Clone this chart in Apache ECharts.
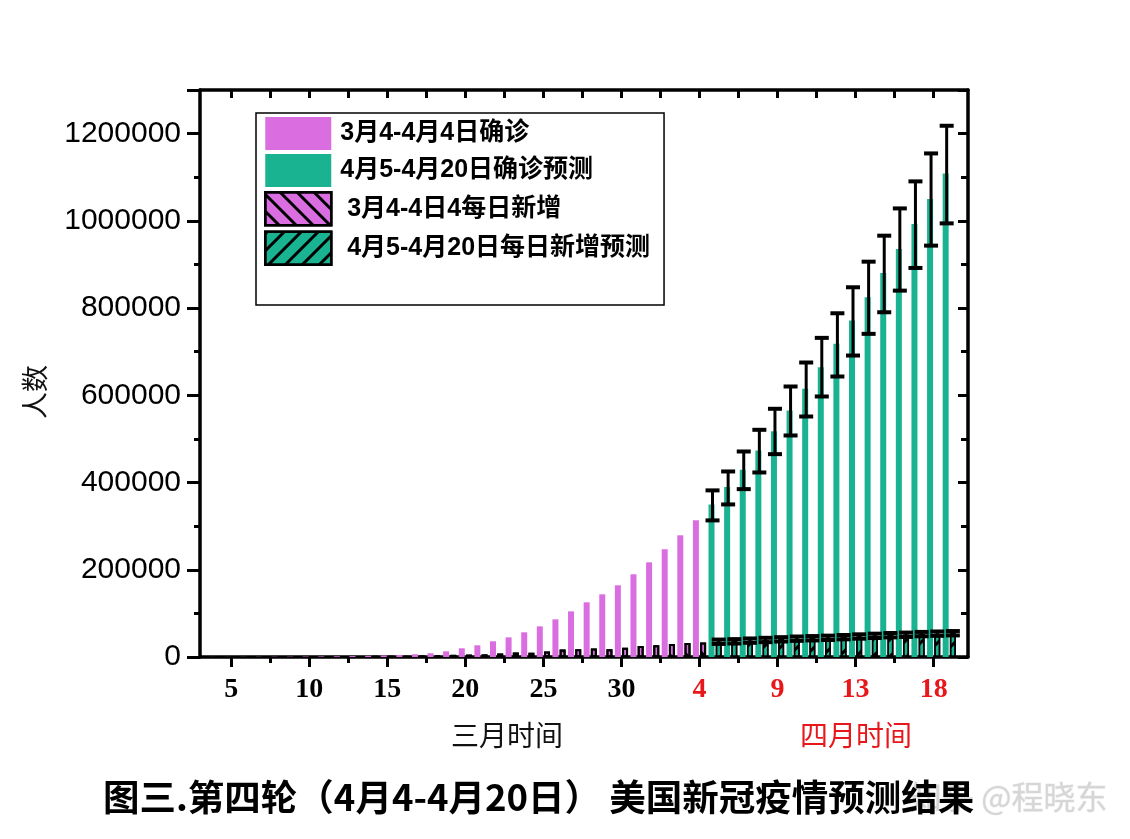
<!DOCTYPE html>
<html><head><meta charset="utf-8">
<script src="https://cdn.jsdelivr.net/npm/echarts@6/dist/echarts.min.js"></script>
<style>html,body{margin:0;padding:0;background:#fff}#c{width:1130px;height:839px}</style>
</head><body><div id="c"></div>
<script>
// x positions: day number counted from 1 March (March d -> d, April d -> 31 + d)
const actualDays = [4,5,6,7,8,9,10,11,12,13,14,15,16,17,18,19,20,21,22,23,24,25,26,27,28,29,30,31,32,33,34,35];
const predDays = [36,37,38,39,40,41,42,43,44,45,46,47,48,49,50,51];

const confirmedActual = [150,220,320,430,550,700,1000,1300,1700,2200,2800,3500,4600,6200,8600,13000,20000,26800,36000,45000,56600,70300,86400,104700,125400,143700,164400,189600,217000,247000,279000,313500];
const dailyActual = [30,70,100,110,120,150,300,300,450,500,600,800,1100,1800,3000,5000,5500,6000,8000,10500,10000,12500,17000,17500,19500,18000,21000,25000,27000,30000,32000,33500];

const confirmedPred = [349800,389500,429300,473500,517800,565200,614900,664400,718000,771400,824700,880500,935600,992800,1050000,1108800];
const confirmedLow  = [313200,349800,384900,423100,465100,507900,551400,597300,643100,691200,740900,790400,840000,892000,943200,994200];
const confirmedHigh = [382000,425400,471200,520900,569100,620200,675200,731700,788100,847700,906400,966000,1028500,1090500,1154600,1218000];

const dailyPred = [35000,36000,37500,39000,40500,42000,43000,44000,45500,47000,48500,50000,51000,52500,53500,54500];
const dailyLow  = [30000,31000,32500,34000,35500,37000,38000,39000,40500,42000,43500,45000,46000,47500,48500,49500];
const dailyHigh = [40000,41000,42500,44000,45500,47000,48000,49000,50500,52000,53500,55000,56000,57500,58500,59500];

const majorTicks = [5,10,15,20,25,30,35,40,45,50];
const tickLabels = ['5','10','15','20','25','30','4','9','13','18'];
const aprilTickLabels = ['4','9','13','18'];
const minorTicks = [7.5,12.5,17.5,22.5,27.5,32.5,37.5,42.5,47.5];
const topTicks = [5,7.5,10,12.5,15,17.5,20,22.5,25,27.5,30,32.5,35,37.5,40,42.5,45,47.5,50];

const seriesNames = ['3月4-4月4日确诊','4月5-4月20日确诊预测',' 3月4-4日4每日新增',' 4月5-4月20日每日新增预测'];
const titleText = '图三.第四轮（4月4-4月20日） 美国新冠疫情预测结果';
const marchAxisTitle = '三月时间';
const aprilAxisTitle = '四月时间';
const yAxisTitle = '人数';
const watermark = '知乎 @程晓东';

const PINK = '#DA6EE0', GREEN = '#19B392', RED = '#E8171B';
const BAR_W = 6, GAP_PX = 1.2;
const offC = -(BAR_W + GAP_PX) / 2, offD = (BAR_W + GAP_PX) / 2;

function zip(xs, ys) { return xs.map((x, i) => [x, ys[i]]); }
function zip3(xs, a, b) { return xs.map((x, i) => [x, a[i], b[i]]); }

function errRender(offset, capHalf, lw) {
  return function (params, api) {
    const x = api.value(0), lo = api.value(1), hi = api.value(2);
    const pLo = api.coord([x, lo]), pHi = api.coord([x, hi]);
    const cx = pLo[0] + offset;
    const st = { stroke: '#000', lineWidth: lw, fill: null };
    return { type: 'group', children: [
      { type: 'line', shape: { x1: cx, y1: pHi[1], x2: cx, y2: pLo[1] }, style: st },
      { type: 'line', shape: { x1: cx - capHalf, y1: pHi[1], x2: cx + capHalf, y2: pHi[1] }, style: { stroke: '#000', lineWidth: lw + 1 } },
      { type: 'line', shape: { x1: cx - capHalf, y1: pLo[1], x2: cx + capHalf, y2: pLo[1] }, style: { stroke: '#000', lineWidth: lw + 1 } }
    ]};
  };
}

const decalBack = { symbol: 'rect', symbolSize: 1, dashArrayX: [1, 0], dashArrayY: [3, 9], rotation: Math.PI / 4, color: '#000' };
const decalFwd  = { symbol: 'rect', symbolSize: 1, dashArrayX: [1, 0], dashArrayY: [3, 9], rotation: -Math.PI / 4, color: '#000' };

const serif = "'Liberation Serif','Times New Roman',serif";
const sans = "'Liberation Sans',Arial,sans-serif";
const cjk = "'Noto Sans CJK SC','Liberation Sans',sans-serif";

const chart = echarts.init(document.getElementById('c'), null, { renderer: 'canvas' });
chart.setOption({
  backgroundColor: '#fff',
  animation: false,
  grid: { left: 200, right: 162, top: 90, bottom: 182, containLabel: false },
  legend: {
    data: [
      { name: seriesNames[0] },
      { name: seriesNames[1] },
      { name: seriesNames[2], itemStyle: { borderWidth: 2.5, borderColor: '#000' } },
      { name: seriesNames[3], itemStyle: { borderWidth: 2.5, borderColor: '#000' } }
    ],
    orient: 'vertical', left: 256, top: 113,
    icon: 'rect', itemWidth: 66, itemHeight: 33, itemGap: 4,
    padding: [4, 14, 39, 8],
    borderColor: '#000', borderWidth: 1.5,
    selectedMode: false,
    textStyle: { fontSize: 25, fontWeight: 'bold', fontFamily: sans + ",'Noto Sans CJK SC'", color: '#000', padding: [0, 0, 0, 4] }
  },
  xAxis: [
    {
      type: 'value', min: 3, max: 52.2, position: 'bottom',
      axisLine: { show: true, lineStyle: { color: '#000', width: 3.5 } },
      axisTick: { show: true, customValues: majorTicks, length: 10, lineStyle: { color: '#000', width: 3 } },
      axisLabel: {
        show: true, customValues: majorTicks, margin: 19,
        fontFamily: serif, fontWeight: 'bold', fontSize: 28, color: '#000',
        formatter: function (v) {
          const i = majorTicks.indexOf(Math.round(v * 10) / 10);
          const t = i >= 0 ? tickLabels[i] : '';
          return (i >= 6 && aprilTickLabels.indexOf(t) >= 0) ? '{r|' + t + '}' : t;
        },
        rich: { r: { color: RED, fontFamily: serif, fontWeight: 'bold', fontSize: 28 } }
      },
      splitLine: { show: false }
    },
    {
      type: 'value', min: 3, max: 52.2, position: 'bottom',
      axisLine: { show: false },
      axisTick: { show: true, customValues: minorTicks, length: 6, lineStyle: { color: '#000', width: 3 } },
      axisLabel: { show: false },
      splitLine: { show: false }
    },
    {
      type: 'value', min: 3, max: 52.2, position: 'top',
      axisLine: { show: true, lineStyle: { color: '#000', width: 3.5 } },
      axisTick: { show: true, inside: true, customValues: topTicks, length: 8, lineStyle: { color: '#000', width: 3 } },
      axisLabel: { show: false },
      splitLine: { show: false }
    }
  ],
  yAxis: [
    {
      type: 'value', min: 0, max: 1300000, interval: 200000, position: 'left',
      axisLine: { show: true, lineStyle: { color: '#000', width: 3.5 } },
      axisTick: { show: true, length: 13, lineStyle: { color: '#000', width: 3 } },
      minorTick: { show: true, splitNumber: 2, length: 6, lineStyle: { color: '#000', width: 3 } },
      axisLabel: { fontFamily: sans, fontSize: 30, color: '#000', margin: 19, showMaxLabel: false,
        formatter: function (v) { return String(v); } },
      splitLine: { show: false }, minorSplitLine: { show: false }
    },
    {
      type: 'value', min: 0, max: 1300000, interval: 200000, position: 'right',
      axisLine: { show: true, lineStyle: { color: '#000', width: 3.5 } },
      axisTick: { show: true, inside: true, length: 10, lineStyle: { color: '#000', width: 3 } },
      minorTick: { show: true, splitNumber: 2, length: 7, lineStyle: { color: '#000', width: 3 } },
      axisLabel: { show: false },
      splitLine: { show: false }, minorSplitLine: { show: false }
    }
  ],
  series: [
    { name: seriesNames[0], type: 'bar', stack: 'confirmed', barWidth: BAR_W, barGap: '20%',
      itemStyle: { color: PINK }, data: zip(actualDays, confirmedActual) },
    { name: seriesNames[1], type: 'bar', stack: 'confirmed', barWidth: BAR_W, barGap: '20%',
      itemStyle: { color: GREEN }, data: zip(predDays, confirmedPred) },
    { name: seriesNames[2], type: 'bar', stack: 'daily', barWidth: BAR_W, barGap: '20%',
      itemStyle: { color: PINK, borderColor: '#000', borderWidth: 2, decal: decalBack }, data: zip(actualDays, dailyActual) },
    { name: seriesNames[3], type: 'bar', stack: 'daily', barWidth: BAR_W, barGap: '20%',
      itemStyle: { color: GREEN, borderColor: '#000', borderWidth: 1.5, decal: decalFwd }, data: zip(predDays, dailyPred) },
    { name: 'confirmedErr', type: 'custom', renderItem: errRender(offC + 1, 7, 3), encode: { x: 0, y: [1, 2] },
      data: zip3(predDays, confirmedLow, confirmedHigh), z: 5 },
    { name: 'dailyErr', type: 'custom', renderItem: errRender(offD, 7, 3), encode: { x: 0, y: [1, 2] },
      data: zip3(predDays, dailyLow, dailyHigh), z: 5 }
  ],
  graphic: [
    { type: 'text', x: 35, y: 392, rotation: Math.PI / 2,
      style: { text: yAxisTitle, textAlign: 'center', textVerticalAlign: 'middle', fontSize: 27, fontFamily: cjk, fill: '#111' } },
    { type: 'text', x: 507, y: 735,
      style: { text: marchAxisTitle, textAlign: 'center', textVerticalAlign: 'middle', fontSize: 28, fontFamily: cjk, fill: '#111' } },
    { type: 'text', x: 856, y: 735,
      style: { text: aprilAxisTitle, textAlign: 'center', textVerticalAlign: 'middle', fontSize: 28, fontFamily: cjk, fill: RED } },
    { type: 'text', x: 910, y: 797, z: 1,
      style: { text: watermark, textAlign: 'left', textVerticalAlign: 'middle', fontSize: 32, fontFamily: cjk, fill: '#d6d6d6', stroke: '#eeeeee', lineWidth: 1 } },
    { type: 'text', x: 103, y: 797, z: 2,
      style: { text: titleText, textAlign: 'left', textVerticalAlign: 'middle', fontSize: 36.5, fontWeight: 'bold', fontFamily: cjk, fill: '#000' } }
  ]
});
</script>
</body></html>
